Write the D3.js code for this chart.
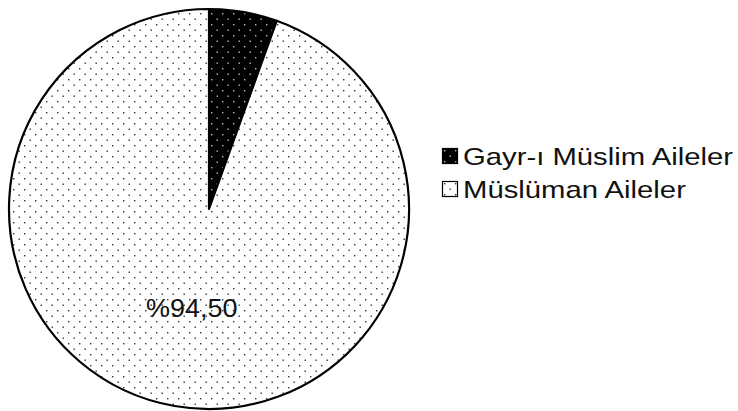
<!DOCTYPE html>
<html><head><meta charset="utf-8">
<script src="https://cdn.jsdelivr.net/npm/d3@7"></script>
<style>body{margin:0;background:#fff}svg{display:block}</style>
</head><body>
<script>
const categories = ["Gayr-ı Müslim Aileler", "Müslüman Aileler"];
const values = [5.5, 94.5];
const labels = ["", "%94,50"];

const W = 738, H = 411;
const FONT = "Liberation Sans, Arial, sans-serif";
const svg = d3.select("body").append("svg").attr("width", W).attr("height", H);
const defs = svg.append("defs");
function pat(id, bg, dot) {
  const s = 11;
  const p = defs.append("pattern").attr("id", id).attr("patternUnits", "userSpaceOnUse")
    .attr("width", s).attr("height", s);
  p.append("rect").attr("width", s).attr("height", s).attr("fill", bg);
  p.append("rect").attr("x", 2).attr("y", 2).attr("width", 1.4).attr("height", 1.4).attr("fill", dot);
  p.append("rect").attr("x", 7.5).attr("y", 7.5).attr("width", 1.4).attr("height", 1.4).attr("fill", dot);
}
pat("pBlack", "#000", "#bbb");
pat("pWhite", "#fff", "#333");
const fills = ["url(#pBlack)", "url(#pWhite)"];

const cx = 209, cy = 209, r = 200;
const pie = d3.pie().sort(null).value(d => d)(values);
const arc = d3.arc().innerRadius(0).outerRadius(r);
const g = svg.append("g").attr("transform", `translate(${cx},${cy})`);
g.selectAll("path").data(pie).join("path")
  .attr("d", arc).attr("fill", (d, i) => fills[i])
  .attr("stroke", "#000").attr("stroke-width", 2.2).attr("stroke-linejoin", "round");

const labelArc = d3.arc().innerRadius(r * 0.5).outerRadius(r * 0.5);
g.selectAll("text").data(pie).join("text")
  .attr("transform", d => { const c = labelArc.centroid(d); return `translate(${c[0]},${c[1] + 9}) scale(1.08,1)`; })
  .attr("text-anchor", "middle")
  .attr("font-family", FONT).attr("font-size", 25).attr("fill", "#111")
  .text((d, i) => labels[i]);

const lg = svg.append("g").attr("transform", "translate(442,148)");
categories.forEach((c, i) => {
  const row = lg.append("g").attr("transform", `translate(0,${i * 33})`);
  row.append("rect").attr("x", 0.5).attr("y", 0.5).attr("width", 15).attr("height", 15)
    .attr("fill", fills[i]).attr("stroke", "#000").attr("stroke-width", 1.2);
  row.append("text").attr("transform", "translate(21,17) scale(1.22,1)")
    .attr("font-family", FONT).attr("fill", "#111")
    .attr("font-size", 24).text(c);
});
</script>
</body></html>
